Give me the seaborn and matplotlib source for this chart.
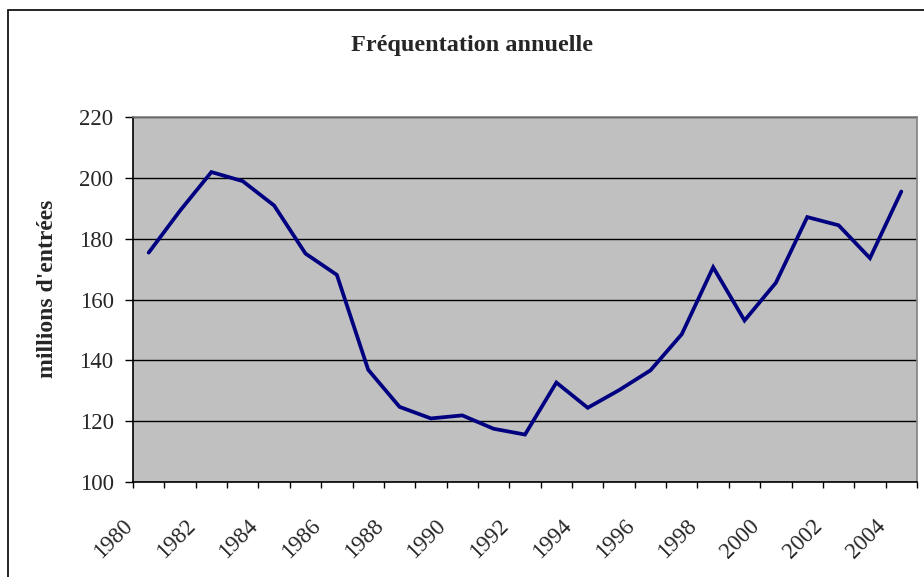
import numpy as np
import pandas as pd
import matplotlib
matplotlib.use("Agg")
import matplotlib.pyplot as plt
import matplotlib.transforms as mtransforms
from matplotlib.patches import Rectangle
import seaborn as sns

# values (millions of admissions)
years = list(range(1980, 2005))
entrees = [175.4, 189.2, 201.9, 198.9, 190.9, 175.1, 168.1, 136.9, 124.7, 120.9,
           121.9, 117.5, 115.6, 132.7, 124.4, 130.2, 136.7, 148.6, 170.6, 153.1,
           165.5, 187.1, 184.4, 173.6, 195.5]
y_ticks = [100, 120, 140, 160, 180, 200, 220]
label_years = list(range(1980, 2005, 2))

df = pd.DataFrame({"pos": np.arange(len(years)), "entrees": entrees})

sns.set_style("white")
plt.rcParams["font.family"] = ["Liberation Serif", "DejaVu Serif"]

W, H = 924, 577
fig = plt.figure(figsize=(W / 100, H / 100), dpi=100)
fig.patch.set_facecolor("white")

# outer chart border
fig.patches.append(Rectangle((8 / W, -0.05), 1.1, (H - 10) / H + 0.05,
                             transform=fig.transFigure, fill=False,
                             edgecolor="black", linewidth=1.2))

ax = fig.add_axes([133 / W, (H - 482) / H, 784 / W, 365 / H])
ax.set_facecolor("#C0C0C0")

sns.lineplot(data=df, x="pos", y="entrees", ax=ax, color="#000080",
             linewidth=2.7, solid_joinstyle="miter")

ax.set_xlim(-0.5, len(years) - 0.5)
ax.set_ylim(100, 220)
ax.set_yticks(y_ticks)
ax.tick_params(axis="y", direction="out", length=6, width=1, color="black",
               pad=8, labelsize=16.5, left=True)

# category boundaries as major ticks, labels on minor ticks at centers
ax.set_xticks(np.arange(-0.5, len(years), 1.0))
ax.set_xticklabels([])
ax.tick_params(axis="x", which="major", direction="out", length=4, width=1,
               color="black", bottom=True)
ax.set_xticks([years.index(y) for y in label_years], minor=True)
ax.set_xticklabels([str(y) for y in label_years], minor=True, rotation=45,
                   ha="right", va="top", fontsize=16.5)
ax.tick_params(axis="x", which="minor", length=0, pad=24)
offset = mtransforms.ScaledTranslation(-12 / 100, 0, fig.dpi_scale_trans)
for lab in ax.get_xticklabels(minor=True):
    lab.set_transform(lab.get_transform() + offset)

ax.set_axisbelow(True)
ax.yaxis.grid(True, color="black", linewidth=1)
ax.xaxis.grid(False)

for side in ["left", "bottom"]:
    ax.spines[side].set_color("black")
    ax.spines[side].set_linewidth(1.2)
for side in ["top", "right"]:
    ax.spines[side].set_color("#808080")
    ax.spines[side].set_linewidth(1.2)

ax.set_xlabel("")
ax.set_ylabel("millions d'entrées", fontsize=17, fontweight="bold", labelpad=0)
ax.yaxis.set_label_coords(48 / W, 0.5, transform=fig.transFigure)
ax.yaxis.label.set_va("center")

fig.text(472 / W, 1 - 45 / H, "Fréquentation annuelle", ha="center",
         va="center", fontsize=17.5, fontweight="bold")

fig.savefig("out.png", dpi=100)
